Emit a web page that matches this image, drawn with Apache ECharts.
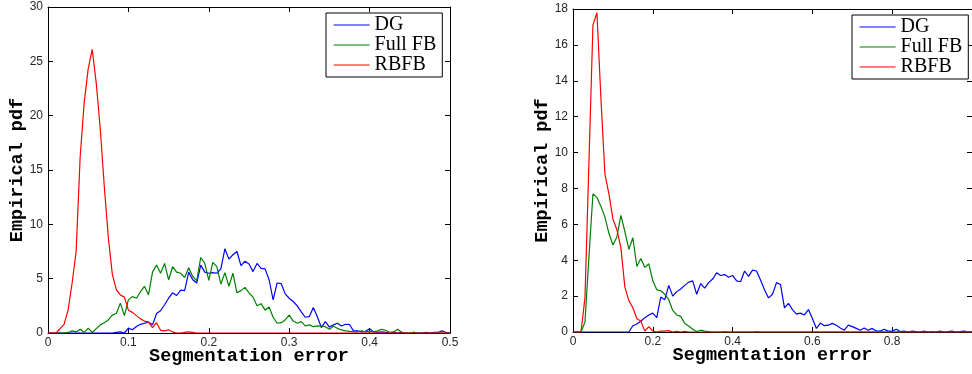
<!DOCTYPE html>
<html>
<head>
<meta charset="utf-8">
<script src="https://cdn.jsdelivr.net/npm/echarts@6/dist/echarts.min.js"></script>
<style>
  html, body { margin: 0; padding: 0; background: #fff; }
  #chart { width: 972px; height: 374px; }
</style>
</head>
<body>
<div id="chart"></div>
<script>
// Bin centres (segmentation error) for the two histograms
const errLeft = [
  0, 0.005, 0.01, 0.015, 0.02, 0.025, 0.03, 0.035, 0.04, 0.045,
  0.05, 0.055, 0.06, 0.065, 0.07, 0.075, 0.08, 0.085, 0.09, 0.095,
  0.1, 0.105, 0.11, 0.115, 0.12, 0.125, 0.13, 0.135, 0.14, 0.145,
  0.15, 0.155, 0.16, 0.165, 0.17, 0.175, 0.18, 0.185, 0.19, 0.195,
  0.2, 0.205, 0.21, 0.215, 0.22, 0.225, 0.23, 0.235, 0.24, 0.245,
  0.25, 0.255, 0.26, 0.265, 0.27, 0.275, 0.28, 0.285, 0.29, 0.295,
  0.3, 0.305, 0.31, 0.315, 0.32, 0.325, 0.33, 0.335, 0.34, 0.345,
  0.35, 0.355, 0.36, 0.365, 0.37, 0.375, 0.38, 0.385, 0.39, 0.395,
  0.4, 0.405, 0.41, 0.415, 0.42, 0.425, 0.43, 0.435, 0.44, 0.445,
  0.45, 0.455, 0.46, 0.465, 0.47, 0.475, 0.48, 0.485, 0.49, 0.495,
  0.5
];
const dgLeft = [
  0, 0, 0, 0, 0, 0, 0, 0, 0, 0,
  0, 0, 0, 0, 0, 0, 0, 0.05, 0.1, 0,
  0.45, 0.3, 0.6, 0.8, 0.9, 1.0, 0.75, 1.8, 2.05, 2.6,
  3.2, 3.7, 3.45, 3.95, 3.9, 5.6, 4.9, 4.6, 6.25, 5.6,
  5.5, 5.55, 5.5, 5.9, 7.75, 6.8, 7.2, 7.5, 6.2, 6.6,
  6.35, 5.65, 6.4, 5.95, 5.9, 4.9, 3.05, 4.6, 4.55, 3.6,
  3.2, 2.9, 2.5, 1.95, 1.45, 1.5, 2.35, 1.5, 0.5, 1.05,
  0.55, 0.75, 0.9, 0.65, 0.8, 0.78, 0.2, 0.2, 0.1, 0.15,
  0.4, 0.1, 0.05, 0.1, 0.05, 0, 0.05, 0, 0.05, 0,
  0, 0.05, 0, 0, 0.05, 0, 0.05, 0.05, 0.2, 0.05,
  0
];
const fullFbLeft = [
  0, 0, 0, 0, 0, 0.05, 0.2, 0.1, 0.35, 0.05,
  0.45, 0.05, 0.4, 0.75, 0.95, 1.2, 1.65, 1.8, 2.75, 1.6,
  3.05, 3.35, 3.2, 3.8, 4.3, 3.5, 5.6, 6.25, 5.5, 6.4,
  4.9, 6.1, 5.6, 5.5, 5.1, 6.0, 5.2, 4.8, 6.95, 6.4,
  4.85, 6.5, 6.1, 4.5, 5.55, 4.3, 5.5, 3.7, 3.9, 4.2,
  3.7, 3.3, 2.5, 2.7, 2.1, 2.4, 1.45, 0.9, 0.95, 1.2,
  1.65, 1.1, 0.9, 1.05, 0.65, 0.75, 0.58, 0.65, 0.62, 0.58,
  0.34, 0.62, 0.43, 0.28, 0.2, 0.15, 0.12, 0.1, 0.2, 0.1,
  0.15, 0.1, 0.2, 0.34, 0.25, 0.05, 0.1, 0.35, 0.05, 0,
  0, 0.05, 0, 0, 0, 0, 0, 0, 0, 0,
  0
];
const rbfbLeft = [
  0, 0, 0, 0.4, 0.8, 2.1, 4.6, 7.5, 16.2, 21.2,
  24.3, 26.1, 23.0, 18.8, 13.5, 8.8, 5.4, 4.0, 3.5, 3.3,
  2.1, 1.9, 1.6, 1.3, 1.1, 1.0, 0.5, 0.95, 0.25, 0.2,
  0.3, 0.1, 0, 0, 0.05, 0.1, 0.05, 0, 0, 0,
  0, 0, 0, 0, 0, 0, 0, 0, 0, 0,
  0, 0, 0, 0, 0, 0, 0, 0, 0, 0,
  0, 0, 0, 0, 0, 0, 0, 0, 0, 0,
  0, 0, 0, 0, 0, 0, 0, 0, 0, 0,
  0, 0, 0, 0, 0, 0, 0, 0, 0, 0,
  0, 0, 0, 0, 0, 0, 0, 0, 0, 0,
  0
];

const errRight = [
  0, 0.01, 0.02, 0.03, 0.04, 0.05, 0.06, 0.07, 0.08, 0.09,
  0.1, 0.11, 0.12, 0.13, 0.14, 0.15, 0.16, 0.17, 0.18, 0.19,
  0.2, 0.21, 0.22, 0.23, 0.24, 0.25, 0.26, 0.27, 0.28, 0.29,
  0.3, 0.31, 0.32, 0.33, 0.34, 0.35, 0.36, 0.37, 0.38, 0.39,
  0.4, 0.41, 0.42, 0.43, 0.44, 0.45, 0.46, 0.47, 0.48, 0.49,
  0.5, 0.51, 0.52, 0.53, 0.54, 0.55, 0.56, 0.57, 0.58, 0.59,
  0.6, 0.61, 0.62, 0.63, 0.64, 0.65, 0.66, 0.67, 0.68, 0.69,
  0.7, 0.71, 0.72, 0.73, 0.74, 0.75, 0.76, 0.77, 0.78, 0.79,
  0.8, 0.81, 0.82, 0.83, 0.84, 0.85, 0.86, 0.87, 0.88, 0.89,
  0.9, 0.91, 0.92, 0.93, 0.94, 0.95, 0.96, 0.97, 0.98, 0.99,
  1.0
];
const dgRight = [
  0, 0, 0, 0, 0, 0, 0, 0, 0, 0,
  0, 0, 0, 0, 0, 0.35, 0.45, 0.6, 0.8, 0.95,
  1.05, 0.8, 1.95, 1.8, 2.6, 2.0, 2.25, 2.4, 2.6, 2.78,
  2.85, 2.1, 2.7, 2.45, 2.75, 2.95, 3.3, 3.15, 3.2, 3.05,
  3.15, 2.85, 2.8, 3.4, 3.1, 3.45, 3.4, 2.9, 2.35, 1.9,
  2.1, 2.75, 2.65, 1.35, 1.6, 1.25, 1.0, 1.05, 0.95, 1.25,
  0.75, 0.2, 0.5, 0.35, 0.38, 0.48, 0.38, 0.22, 0.1, 0.38,
  0.3, 0.2, 0.1, 0.22, 0.1, 0.2, 0.05, 0.05, 0.15, 0.05,
  0.05, 0.15, 0.02, 0.05, 0, 0.05, 0.02, 0, 0.05, 0,
  0.02, 0, 0.05, 0, 0.02, 0.05, 0, 0.02, 0.05, 0,
  0.02
];
const fullFbRight = [
  0, 0, 0, 0.55, 4.2, 7.7, 7.5, 7.0, 6.4, 5.5,
  4.85, 5.3, 6.5, 5.6, 4.6, 5.25, 3.65, 4.1, 3.6, 3.8,
  2.85, 2.35, 2.3, 2.1, 1.8, 1.2, 0.95, 0.87, 0.47, 0.33,
  0.15, 0.03, 0.1, 0.05, 0.02, 0, 0, 0, 0.02, 0,
  0, 0, 0, 0, 0, 0, 0.02, 0, 0, 0,
  0, 0, 0, 0, 0, 0, 0, 0, 0, 0,
  0, 0, 0, 0, 0, 0, 0, 0, 0, 0,
  0, 0, 0, 0, 0, 0, 0, 0, 0, 0,
  0, 0, 0, 0, 0, 0, 0, 0, 0, 0,
  0, 0, 0, 0, 0, 0, 0, 0, 0, 0,
  0
];
const rbfbRight = [
  0, 0, 0, 1.9, 9.5, 17.1, 17.8, 13.0, 8.8, 7.7,
  6.3, 5.7, 4.7, 2.5, 1.75, 1.35, 0.75, 0.6, 0.05, 0.3,
  0.05, 0, 0.05, 0.05, 0.08, 0, 0.03, 0, 0.03, 0,
  0, 0, 0, 0, 0, 0, 0, 0, 0, 0,
  0, 0, 0, 0, 0, 0, 0, 0, 0, 0,
  0, 0, 0, 0, 0, 0, 0, 0, 0, 0,
  0, 0, 0, 0, 0, 0, 0, 0, 0, 0,
  0, 0, 0, 0, 0, 0, 0, 0, 0, 0,
  0, 0, 0, 0, 0, 0, 0, 0, 0, 0,
  0, 0, 0, 0, 0, 0, 0, 0, 0, 0,
  0
];

const seriesNames = ['DG', 'Full FB', 'RBFB'];
const seriesColors = ['#0000ff', '#008000', '#ff0000'];
const xTitle = 'Segmentation error';
const yTitle = 'Empirical pdf';

const pairs = (xs, ys) => xs.map((x, i) => [x, ys[i]]);

const tickLabelStyle = { color: '#262626', fontFamily: 'Liberation Sans', fontSize: 12 };
const titleStyle = { color: '#000', fontFamily: 'Liberation Mono', fontWeight: 'bold', fontSize: 18.5 };
const boxLine = { show: true, onZero: false, lineStyle: { color: '#000', width: 1 } };
const tickIn = { show: true, inside: true, length: 5, lineStyle: { color: '#000', width: 1 } };

function xPair(grid, max, step) {
  return [
    { type: 'value', gridIndex: grid, position: 'bottom', min: 0, max: max, interval: step,
      axisLine: boxLine, axisTick: tickIn, splitLine: { show: false },
      axisLabel: Object.assign({ margin: 4, showMaxLabel: grid === 0 }, tickLabelStyle),
      name: xTitle, nameLocation: 'middle', nameGap: 14, nameMoveOverlap: false,
      nameTextStyle: titleStyle },
    { type: 'value', gridIndex: grid, position: 'top', min: 0, max: max, interval: step,
      axisLine: boxLine, axisTick: tickIn, splitLine: { show: false }, axisLabel: { show: false } }
  ];
}
function yPair(grid, max, step) {
  return [
    { type: 'value', gridIndex: grid, position: 'left', min: 0, max: max, interval: step,
      axisLine: boxLine, axisTick: tickIn, splitLine: { show: false },
      axisLabel: Object.assign({ margin: 5 }, tickLabelStyle),
      name: yTitle, nameLocation: 'middle', nameGap: 21, nameMoveOverlap: false,
      nameTextStyle: titleStyle },
    { type: 'value', gridIndex: grid, position: 'right', min: 0, max: max, interval: step,
      axisLine: boxLine, axisTick: tickIn, splitLine: { show: false }, axisLabel: { show: false } }
  ];
}

function lineSeries(name, color, xi, yi, data) {
  return {
    type: 'line', name: name, xAxisIndex: xi, yAxisIndex: yi, data: data,
    symbol: 'none', smooth: false, animation: false,
    lineStyle: { color: color, width: 1.2 }, itemStyle: { color: color }
  };
}

// Legend keys are plain line samples: the marker part is made invisible
function legendAt(left, top) {
  return {
    data: seriesNames, orient: 'vertical', left: left, top: top,
    backgroundColor: '#fff', borderColor: '#000', borderWidth: 1,
    padding: [2, 6, 2, 7], itemGap: 0, itemWidth: 36, itemHeight: 16, selectedMode: false,
    itemStyle: { opacity: 0, borderWidth: 0 },
    lineStyle: { width: 1.2 },
    textStyle: { fontFamily: 'Liberation Serif', fontSize: 20, lineHeight: 16, color: '#000', padding: [0, 0, 0, 0] }
  };
}

const chart = echarts.init(document.getElementById('chart'), null, { renderer: 'canvas' });
chart.setOption({
  animation: false,
  backgroundColor: '#fff',
  grid: [
    { left: 48, top: 7, width: 402, height: 326 },
    { left: 573, top: 9, width: 400, height: 323 }
  ],
  xAxis: xPair(0, 0.5, 0.1).concat(xPair(1, 1, 0.2)),
  yAxis: yPair(0, 30, 5).concat(yPair(1, 18, 2)),
  legend: [legendAt(326, 13), legendAt(852, 15)],
  series: [
    lineSeries(seriesNames[0], seriesColors[0], 0, 0, pairs(errLeft, dgLeft)),
    lineSeries(seriesNames[1], seriesColors[1], 0, 0, pairs(errLeft, fullFbLeft)),
    lineSeries(seriesNames[2], seriesColors[2], 0, 0, pairs(errLeft, rbfbLeft)),
    lineSeries(seriesNames[0], seriesColors[0], 2, 2, pairs(errRight, dgRight)),
    lineSeries(seriesNames[1], seriesColors[1], 2, 2, pairs(errRight, fullFbRight)),
    lineSeries(seriesNames[2], seriesColors[2], 2, 2, pairs(errRight, rbfbRight))
  ]
});
</script>
</body>
</html>
